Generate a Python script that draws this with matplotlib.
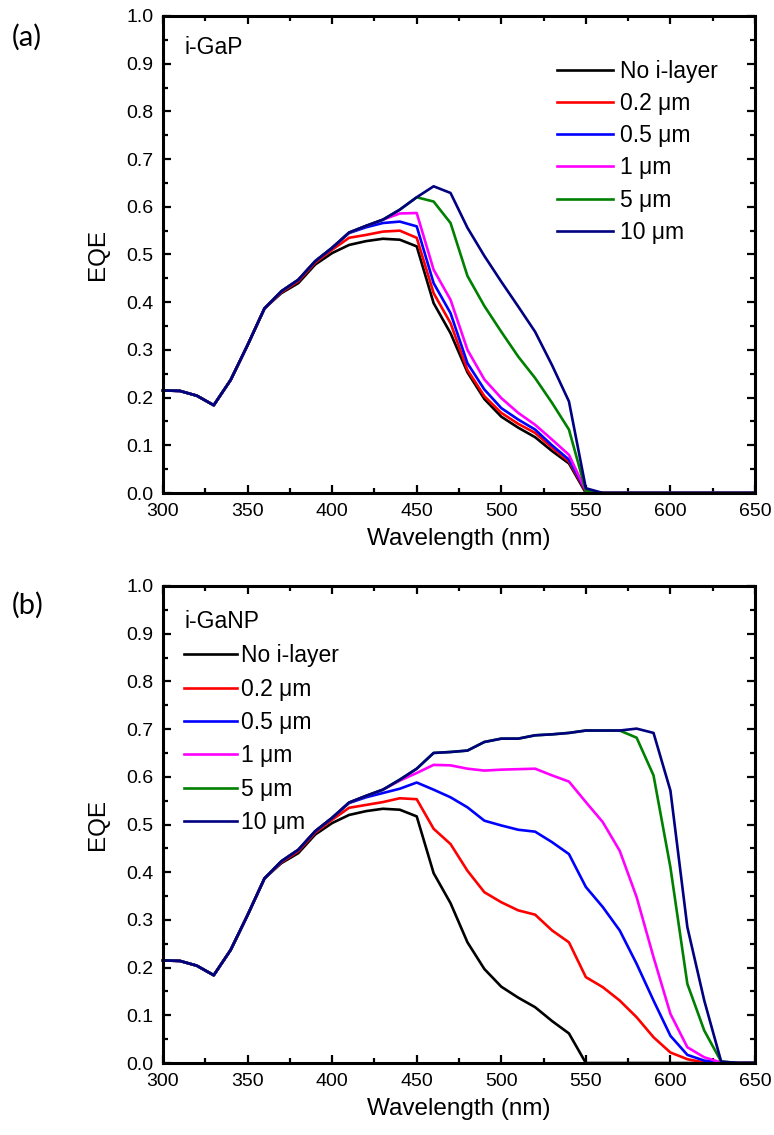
import matplotlib
matplotlib.use('Agg')
import matplotlib.pyplot as plt
from matplotlib.ticker import MultipleLocator

# wavelength grid (nm)
wavelength = [300, 310, 320, 330, 340, 350, 360, 370, 380, 390,
              400, 410, 420, 430, 440, 450, 460, 470, 480, 490,
              500, 510, 520, 530, 540, 550, 560, 570, 580, 590,
              600, 610, 620, 630, 640, 650]

labels = ['No i-layer', '0.2 μm', '0.5 μm', '1 μm', '5 μm', '10 μm']
colors = ['black', '#ff0000', '#0000ff', '#ff00ff', '#008000', '#000080']

# (a) i-GaP
eqe_a_none = [0.215, 0.214, 0.204, 0.184, 0.237, 0.310, 0.387, 0.419, 0.440, 0.479,
              0.503, 0.520, 0.528, 0.533, 0.531, 0.517, 0.398, 0.335, 0.253, 0.197,
              0.160, 0.137, 0.117, 0.088, 0.062, 0.000, 0, 0, 0, 0, 0, 0, 0, 0, 0, 0]
eqe_a_02 = [0.215, 0.214, 0.204, 0.184, 0.237, 0.310, 0.387, 0.421, 0.444, 0.483,
            0.510, 0.535, 0.541, 0.548, 0.550, 0.535, 0.419, 0.356, 0.258, 0.203,
            0.168, 0.145, 0.126, 0.095, 0.066, 0.003, 0, 0, 0, 0, 0, 0, 0, 0, 0, 0]
eqe_a_05 = [0.215, 0.214, 0.204, 0.184, 0.237, 0.310, 0.387, 0.423, 0.447, 0.486,
            0.514, 0.545, 0.557, 0.566, 0.569, 0.559, 0.440, 0.377, 0.272, 0.217,
            0.178, 0.154, 0.133, 0.100, 0.070, 0.005, 0, 0, 0, 0, 0, 0, 0, 0, 0, 0]
eqe_a_1 = [0.215, 0.214, 0.204, 0.184, 0.237, 0.310, 0.387, 0.423, 0.447, 0.486,
           0.514, 0.546, 0.560, 0.573, 0.586, 0.587, 0.468, 0.405, 0.300, 0.238,
           0.199, 0.168, 0.143, 0.112, 0.080, 0.005, 0, 0, 0, 0, 0, 0, 0, 0, 0, 0]
eqe_a_5 = [0.215, 0.214, 0.204, 0.184, 0.237, 0.310, 0.387, 0.423, 0.447, 0.486,
           0.514, 0.546, 0.560, 0.573, 0.594, 0.620, 0.611, 0.566, 0.455, 0.392,
           0.338, 0.286, 0.241, 0.189, 0.133, 0.005, 0, 0, 0, 0, 0, 0, 0, 0, 0, 0]
eqe_a_10 = [0.215, 0.214, 0.204, 0.184, 0.237, 0.310, 0.387, 0.423, 0.447, 0.486,
            0.514, 0.546, 0.560, 0.573, 0.594, 0.620, 0.643, 0.629, 0.556, 0.497,
            0.443, 0.391, 0.338, 0.268, 0.192, 0.010, 0, 0, 0, 0, 0, 0, 0, 0, 0, 0]

# (b) i-GaNP
eqe_b_none = eqe_a_none
eqe_b_02 = [0.215, 0.214, 0.204, 0.184, 0.237, 0.310, 0.387, 0.421, 0.444, 0.483,
            0.510, 0.535, 0.541, 0.547, 0.555, 0.553, 0.491, 0.459, 0.403, 0.358,
            0.337, 0.320, 0.311, 0.278, 0.253, 0.180, 0.159, 0.131, 0.096, 0.054,
            0.022, 0.008, 0.001, 0, 0, 0]
eqe_b_05 = [0.215, 0.214, 0.204, 0.184, 0.237, 0.310, 0.387, 0.423, 0.447, 0.486,
            0.514, 0.545, 0.557, 0.566, 0.575, 0.588, 0.573, 0.557, 0.536, 0.508,
            0.498, 0.489, 0.485, 0.463, 0.438, 0.369, 0.327, 0.278, 0.208, 0.131,
            0.057, 0.017, 0.005, 0.001, 0, 0]
eqe_b_1 = [0.215, 0.214, 0.204, 0.184, 0.237, 0.310, 0.387, 0.423, 0.447, 0.486,
           0.514, 0.546, 0.560, 0.573, 0.592, 0.608, 0.625, 0.624, 0.617, 0.613,
           0.615, 0.616, 0.617, 0.603, 0.590, 0.547, 0.505, 0.445, 0.348, 0.222,
           0.103, 0.033, 0.012, 0.001, 0, 0]
eqe_b_5 = [0.215, 0.214, 0.204, 0.184, 0.237, 0.310, 0.387, 0.423, 0.447, 0.486,
           0.514, 0.546, 0.560, 0.573, 0.594, 0.617, 0.650, 0.652, 0.655, 0.673,
           0.680, 0.680, 0.687, 0.689, 0.692, 0.697, 0.697, 0.697, 0.682, 0.603,
           0.410, 0.166, 0.068, 0.003, 0, 0]
eqe_b_10 = [0.215, 0.214, 0.204, 0.184, 0.237, 0.310, 0.387, 0.423, 0.447, 0.486,
            0.514, 0.546, 0.560, 0.573, 0.594, 0.617, 0.650, 0.652, 0.655, 0.673,
            0.680, 0.680, 0.687, 0.689, 0.692, 0.697, 0.697, 0.697, 0.701, 0.692,
            0.571, 0.285, 0.131, 0.003, 0, 0]

series_a = [eqe_a_none, eqe_a_02, eqe_a_05, eqe_a_1, eqe_a_5, eqe_a_10]
series_b = [eqe_b_none, eqe_b_02, eqe_b_05, eqe_b_1, eqe_b_5, eqe_b_10]

plt.rcParams['font.family'] = ['Liberation Sans', 'DejaVu Sans']

fig = plt.figure(figsize=(7.74, 11.35), dpi=100)
ax_a = fig.add_axes([163 / 774, 1 - 493 / 1135, 592 / 774, 477 / 1135])
ax_b = fig.add_axes([163 / 774, 1 - 1063 / 1135, 592 / 774, 477 / 1135])

LEG_FS = 16.5


def style_axes(ax):
    ax.set_xlim(300, 650)
    ax.set_ylim(0, 1.0)
    ax.xaxis.set_major_locator(MultipleLocator(50))
    ax.xaxis.set_minor_locator(MultipleLocator(25))
    ax.yaxis.set_major_locator(MultipleLocator(0.1))
    ax.yaxis.set_minor_locator(MultipleLocator(0.05))
    ax.yaxis.set_major_formatter(plt.FormatStrFormatter('%.1f'))
    ax.tick_params(which='both', direction='in', top=True, right=True,
                   width=1.6, labelsize=14, pad=7)
    ax.tick_params(which='major', length=6)
    ax.tick_params(which='minor', length=3.5)
    for sp in ax.spines.values():
        sp.set_linewidth(2.2)
    ax.set_xlabel('Wavelength (nm)', fontsize=17.5, labelpad=6)
    ax.set_ylabel('EQE', fontsize=17.5, labelpad=12)


for ax, series in [(ax_a, series_a), (ax_b, series_b)]:
    for vals, lab, col in zip(series, labels, colors):
        ax.plot(wavelength, vals, color=col, linewidth=1.9, label=lab, clip_on=False)
    style_axes(ax)

ax_a.text(0.037, 0.935, 'i-GaP', transform=ax_a.transAxes, fontsize=LEG_FS, va='center')
ax_a.legend(loc='upper left', bbox_to_anchor=(0.650, 0.927), frameon=False,
            fontsize=LEG_FS, handlelength=2.45, handletextpad=0.3, labelspacing=0.40,
            borderaxespad=0)

ax_b.text(0.037, 0.925, 'i-GaNP', transform=ax_b.transAxes, fontsize=LEG_FS, va='center')
ax_b.legend(loc='upper left', bbox_to_anchor=(0.020, 0.897), frameon=False,
            fontsize=LEG_FS, handlelength=2.3, handletextpad=0.2, labelspacing=0.45,
            borderaxespad=0)

fig.text(12 / 774, 1 - 37 / 1135, '(a)', fontsize=21, family=['Lato', 'DejaVu Sans'], va='center')
fig.text(12 / 774, 1 - 605 / 1135, '(b)', fontsize=21, family=['Lato', 'DejaVu Sans'], va='center')

fig.savefig('out.png', dpi=100)
